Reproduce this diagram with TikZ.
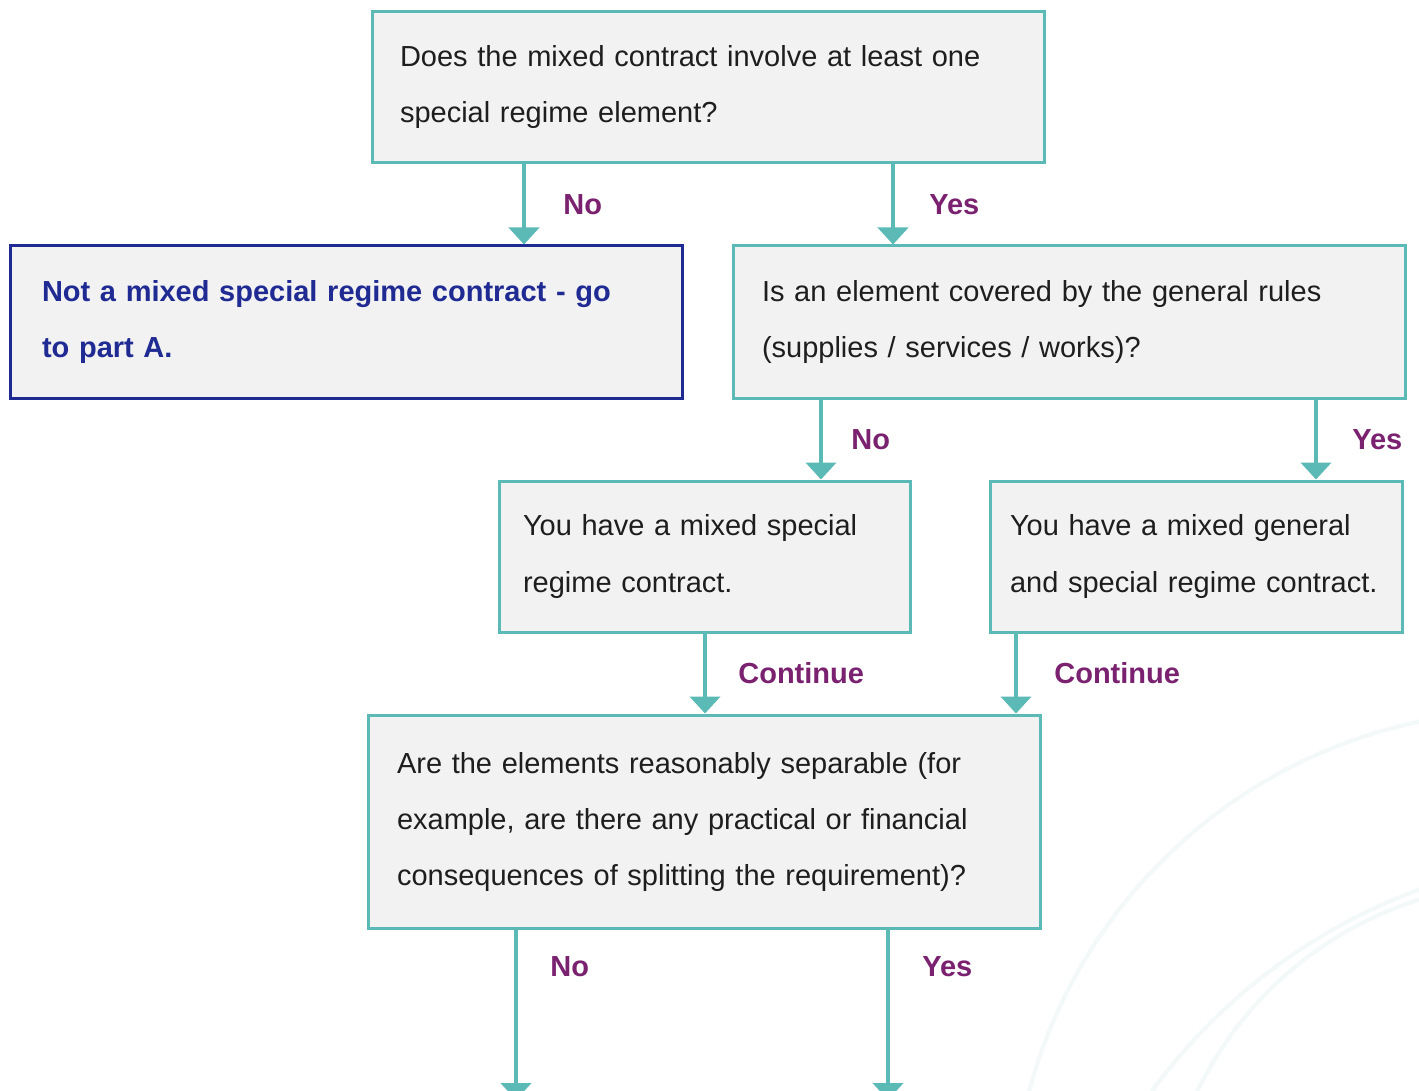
\documentclass[tikz,border=0pt]{standalone}
\usepackage{fontspec}
\setmainfont{Liberation Sans}
\usetikzlibrary{arrows.meta,calc}

\definecolor{flowteal}{HTML}{5BBAB6}
\definecolor{boxgray}{HTML}{F2F2F2}
\definecolor{noteblue}{HTML}{1F2A93}
\definecolor{answerpurple}{HTML}{7A2270}
\definecolor{bodytext}{HTML}{1E1E1E}
\definecolor{arcfaint}{HTML}{F3F8F8}

\tikzset{
  box/.style={rectangle, draw=flowteal, line width=3pt, fill=boxgray,
    anchor=north west, inner xsep=0pt, inner ysep=0pt, outer sep=0pt,
    align=left, text=bodytext, font=\fontsize{29}{56}\selectfont},
  notebox/.style={box, draw=noteblue, text=noteblue,
    font=\fontsize{29}{56}\selectfont\bfseries},
  flow/.style={draw=flowteal, line width=4.7pt,
    -{Triangle[width=30pt,length=17pt]}, shorten >=1.5pt},
  answer/.style={anchor=west, inner sep=0pt, text=answerpurple,
    font=\fontsize{29}{34}\selectfont\bfseries},
}

\begin{document}
\begin{tikzpicture}[x=1pt,y=-1pt]
\clip (0,0) rectangle (1419,1091);
\fill[white] (0,0) rectangle (1419,1091);

% faint decorative rings in the lower right corner
\begin{scope}[draw=arcfaint, line width=4pt]
  \draw (1524,1223) circle[radius=512pt];
  \draw (1616,1429) circle[radius=574pt];
  \draw (1529,1251) circle[radius=368pt];
\end{scope}

% decision and outcome boxes
\node[box, minimum width=672pt, minimum height=151pt, text width=616pt]
  (q1) at (372,12)
  {Does the mixed contract involve at least one\\special regime element?};
\node[notebox, minimum width=672pt, minimum height=152pt, text width=608pt]
  (nomix) at (10,246)
  {Not a mixed special regime contract - go\\to part A.};
\node[box, minimum width=672pt, minimum height=152pt, text width=614pt]
  (q2) at (733,246)
  {Is an element covered by the general rules\\(supplies / services / works)?};
\node[box, minimum width=411pt, minimum height=151pt, text width=363pt]
  (special) at (499,481)
  {You have a mixed special\\regime contract.};
\node[box, minimum width=412pt, minimum height=151pt, text width=372pt]
  (general) at (990,481)
  {You have a mixed general\\and special regime contract.};
\node[box, minimum width=672pt, minimum height=213pt, text width=614pt]
  (q3) at (368,715)
  {Are the elements reasonably separable (for\\example, are there any practical or financial\\consequences of splitting the requirement)?};

% loose ends running off the lower edge
\coordinate (outNo) at (516,1100);
\coordinate (outYes) at (888,1100);

% connectors with their answers
\draw[flow] ([xshift=152pt]q1.south west)
  -- node[answer, midway, xshift=37pt] {No}
  ([xshift=152pt]q1.south west |- nomix.north);
\draw[flow] ([xshift=521pt]q1.south west)
  -- node[answer, midway, xshift=34pt] {Yes}
  ([xshift=521pt]q1.south west |- q2.north);
\draw[flow] ([xshift=88pt]q2.south west)
  -- node[answer, midway, xshift=28pt] {No}
  ([xshift=88pt]q2.south west |- special.north);
\draw[flow] ([xshift=583pt]q2.south west)
  -- node[answer, midway, xshift=34pt] {Yes}
  ([xshift=583pt]q2.south west |- general.north);
\draw[flow] ([xshift=206pt]special.south west)
  -- node[answer, midway, xshift=31pt] {Continue}
  ([xshift=206pt]special.south west |- q3.north);
\draw[flow] ([xshift=26pt]general.south west)
  -- node[answer, midway, xshift=36pt] {Continue}
  ([xshift=26pt]general.south west |- q3.north);
\draw[flow, shorten >=0pt] (q3.south -| outNo)
  -- node[answer, pos=0.227, xshift=32pt] {No} (outNo);
\draw[flow, shorten >=0pt] (q3.south -| outYes)
  -- node[answer, pos=0.227, xshift=32pt] {Yes} (outYes);
\end{tikzpicture}
\end{document}
